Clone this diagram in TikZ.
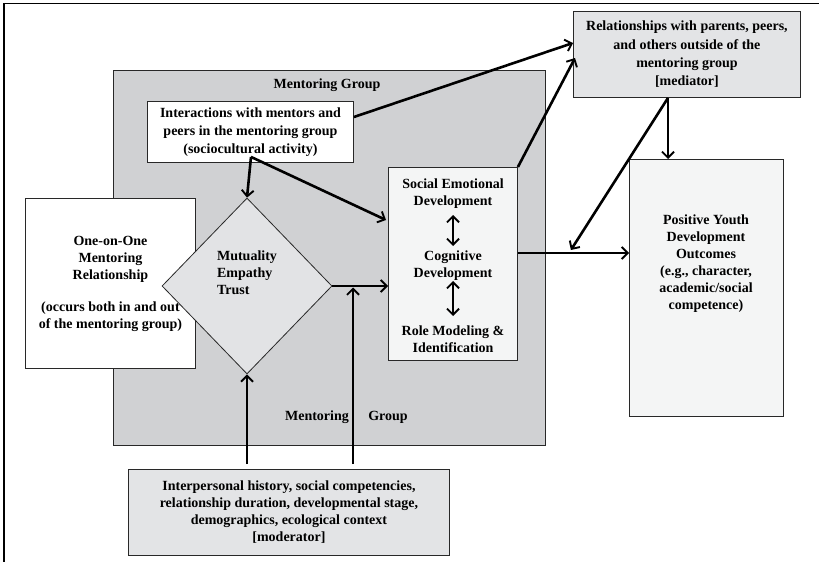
\documentclass[tikz,border=0pt]{standalone}
\usepackage{fontspec}
\setmainfont{Liberation Serif}
\usetikzlibrary{arrows.meta,shapes.geometric,calc}
\definecolor{grpgray}{RGB}{208,209,211}
\definecolor{boxgray}{RGB}{227,228,230}
\definecolor{diagray}{RGB}{226,227,229}
\definecolor{lightbox}{RGB}{244,245,245}
\definecolor{edge}{RGB}{40,40,40}
\begin{document}
\begin{tikzpicture}[x=1pt,y=-1pt,
  every node/.style={font=\fontsize{14}{17}\selectfont\bfseries, inner sep=0pt, align=center},
  boxbase/.style={draw=edge, line width=0.9pt, anchor=north west},
  wbox/.style={boxbase, fill=white},
  gbox/.style={boxbase, fill=boxgray},
  lbox/.style={boxbase, fill=lightbox},
  grpbox/.style={boxbase, fill=grpgray},
  tip/.style={},
  arr/.style={line width=2.6pt, -{Straight Barb[length=6pt,width=12pt,line width=1.9pt]}},
  dbl/.style={line width=2.6pt, {Straight Barb[length=6pt,width=12pt,line width=1.9pt]}-{Straight Barb[length=6pt,width=12pt,line width=1.9pt]}}
]
\useasboundingbox (0,0) rectangle (819,562);
\fill[white] (0,0) rectangle (819,562);
\draw[line width=1.5pt] (4,562) -- (4,3.5) -- (819,3.5);

% mentoring group
\node[grpbox, minimum width=432, minimum height=375] (grp) at (113,70) {};
\node (glab) at (327,85) {Mentoring Group};
\node (glab1) at (317,417) {Mentoring};
\node (glab2) at (388,417) {Group};

% boxes
\node[wbox, minimum width=206, minimum height=61, font=\fontsize{14}{18}\selectfont\bfseries] (ints) at (147,101)
  {Interactions with mentors and\\peers in the mentoring group\\(sociocultural activity)};
\node[gbox, minimum width=227, minimum height=86, font=\fontsize{14}{18.3}\selectfont\bfseries] (tr) at (573,11)
  {Relationships with parents, peers,\\and others outside of the\\mentoring group\\{[mediator]}};
\node[wbox, minimum width=170, minimum height=170] (oo) at (25,198)
  {One-on-One\\Mentoring\\Relationship\\[15pt](occurs both in and out\\of the mentoring group)};
\node[draw=edge, line width=0.8pt, fill=diagray, diamond, minimum width=170, minimum height=176] (mut) at (247,286) {};
\node[align=left] (muttxt) at (247,273) {Mutuality\\Empathy\\Trust};
\node[lbox, minimum width=129, minimum height=193] (cen) at (388,167) {};
\node (sed) at (453,194) {Social Emotional\\Development};
\node (cog) at (453,266) {Cognitive\\Development};
\node (role) at (453,339) {Role Modeling \&\\Identification};
\node[lbox, minimum width=154, minimum height=257] (pyd) at (629,159) {};
\node (pydtxt) at (706,264) {Positive Youth\\Development\\Outcomes\\(e.g., character,\\academic/social\\competence)};
\node[gbox, minimum width=321, minimum height=86] (mod) at (128,469)
  {Interpersonal history, social competencies,\\relationship duration, developmental stage,\\demographics, ecological context\\{[moderator]}};

% coordinates
\coordinate (ib) at ($(ints.south west)+(104,-6)$);
\coordinate (mt) at ($(tr.south west)+(95,0)$);
\coordinate (m4) at ($(cen.north east)+(53,83)$);
\coordinate (j) at ($(mod.north west)+(225,0)$);
\coordinate (d1a) at ($(cen.north west)+(65,48)$);
\coordinate (d1b) at ($(cen.north west)+(65,79)$);
\coordinate (d2a) at ($(cen.north west)+(65,114)$);
\coordinate (d2b) at ($(cen.north west)+(65,149)$);

% connectors
\draw[arr] ($(ints.north east)+(0,16)$) -- ($(tr.north west)+(0,32)$);
\draw[arr] (cen.north east) -- ($(tr.north west)+(2,47)$);
\draw[arr] (mt) -- (mt |- pyd.north);
\draw[arr] (mt) -- (m4);
\draw[arr] ($(cen.north east)+(0,86)$) -- ($(pyd.north west)+(0,94)$);
\draw[arr] (ib) -- (mut.north);
\draw[arr] (ib) -- ($(cen.north west)+(-2,53)$);
\draw[arr] (mut.east) -- (mut.east -| cen.west);
\draw[arr] ($(mod.north -| mut.south)+(0,-5)$) -- (mut.south);
\draw[arr, shorten >=1.5pt] ($(j)+(0,-5)$) -- (j |- mut.east);
\draw[dbl] (d1a) -- (d1b);
\draw[dbl] (d2a) -- (d2b);
\end{tikzpicture}
\end{document}
